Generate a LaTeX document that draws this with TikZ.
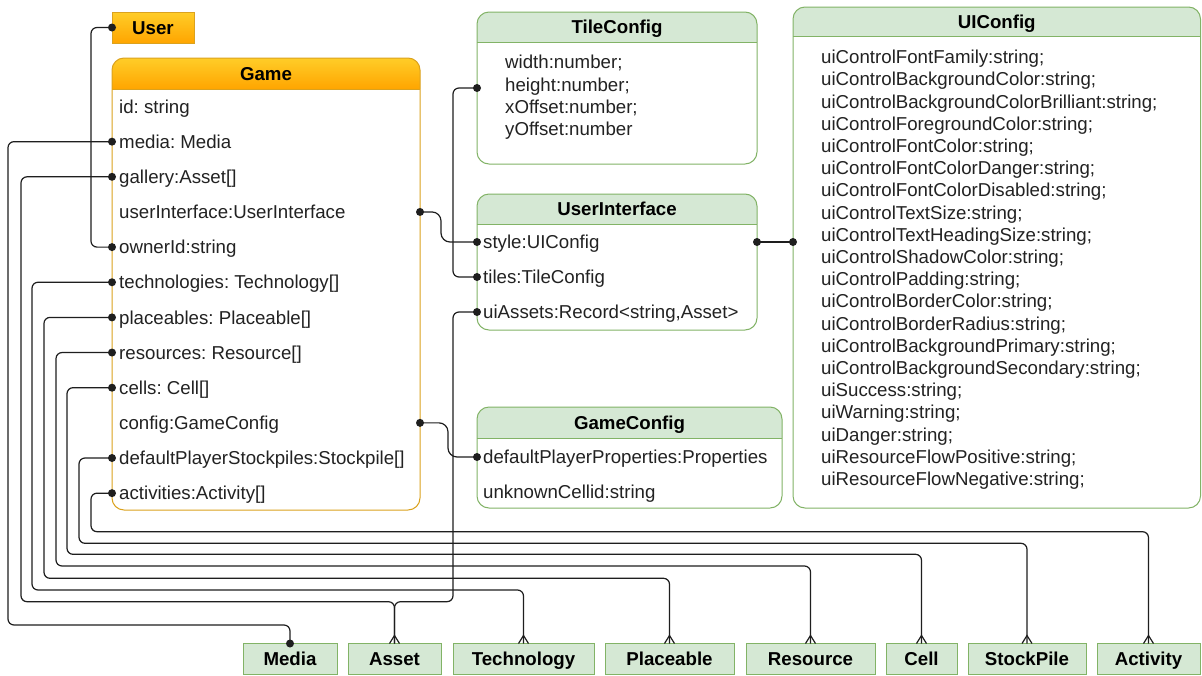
\documentclass[tikz,border=0pt]{standalone}
\usepackage{fontspec}
\setmainfont{Liberation Sans}
\usetikzlibrary{calc}

\definecolor{gfill}{HTML}{D5E8D4}
\definecolor{gline}{HTML}{82B366}
\definecolor{otop}{HTML}{FFCD28}
\definecolor{obot}{HTML}{FFA500}
\definecolor{oline}{HTML}{DBA21E}
\definecolor{wirec}{HTML}{1E1E1E}
\definecolor{txtc}{HTML}{222222}

\newcommand\erfont{\fontsize{18.67}{22.2}\selectfont\frenchspacing}

% filled joint dot at a named point
\newcommand\jdot[1]{\fill[wirec] (#1) circle[radius=4pt];}
% "many" end marker sitting on the top edge of an entity
\newcommand\crowfoot[1]{\draw[wirec, line width=1.2pt] ($(#1.north)+(-5,0)$) -- ($(#1.north)+(0,-8)$) -- ($(#1.north)+(5,0)$);}
% header band, separator, outline and title of a class box
% #1 node, #2 header height, #3 header fill, #4 line colour, #5 title
\newcommand\classhead[5]{%
  \path[#3] ([yshift=-#2pt]#1.north west) [rounded corners=12pt] -- (#1.north west) -- (#1.north east) [sharp corners] -- ([yshift=-#2pt]#1.north east) -- cycle;
  \draw[#4, line width=1pt] ([yshift=-#2pt]#1.north west) -- ([yshift=-#2pt]#1.north east);
  \draw[#4, line width=1pt, rounded corners=12pt] (#1.north west) rectangle (#1.south east);
  \node[heading] (#1-title) at ($(#1.north)!0.5!([yshift=-#2pt]#1.north)$) {#5};
}

\tikzset{
  field/.style={anchor=west, inner sep=0pt, text height=13.4pt, text depth=0pt, font=\erfont, text=txtc},
  heading/.style={inner sep=0pt, text height=13.4pt, text depth=0pt, font=\erfont\bfseries, text=black},
  classbody/.style={fill=white, rounded corners=12pt, inner sep=0pt, outer sep=0pt, anchor=north west},
  entity/.style={draw=gline, fill=gfill, line width=1pt, inner sep=0pt, outer sep=0pt, anchor=north west,
    minimum height=31pt, font=\erfont\bfseries, text height=13.4pt, text depth=0pt},
  wire/.style={draw=wirec, line width=1.2pt, rounded corners=6pt},
  sbend/.style={wire, rounded corners=9pt},
}

\begin{document}
\begin{tikzpicture}[x=1pt,y=-1pt]
\fill[white] (0,0) rectangle (1202,675);
\useasboundingbox (0,0) rectangle (1202,675);

% ---------- User ----------
\node[draw=oline, top color=otop, bottom color=obot, line width=1pt, inner sep=0pt, outer sep=0pt,
  anchor=north west, minimum width=82pt, minimum height=31pt, font=\erfont\bfseries,
  text height=13.4pt, text depth=0pt] (user) at (112,12) {User};

% ---------- Game ----------
\node[classbody, minimum width=308pt, minimum height=452pt] (game) at (112,58) {};
\classhead{game}{31}{top color=otop, bottom color=obot}{oline}{Game}
\foreach [count=\i from 0] \n/\t in {
  gid/{id: string},
  gmedia/{media: Media},
  ggallery/{gallery:Asset[]},
  gui/{userInterface:UserInterface},
  gowner/{ownerId:string},
  gtech/{technologies: Technology[]},
  gplace/{placeables: Placeable[]},
  gres/{resources: Resource[]},
  gcells/{cells: Cell[]},
  gconfig/{config:GameConfig},
  gstock/{defaultPlayerStockpiles:Stockpile[]},
  gact/{activities:Activity[]}}
  {\node[field] (\n) at (119,{106.5+35.15*\i}) {\t};}

% ---------- TileConfig ----------
\node[classbody, minimum width=280pt, minimum height=152pt] (tile) at (477,12) {};
\classhead{tile}{30}{fill=gfill}{gline}{TileConfig}
\foreach [count=\i from 0] \n/\t in {
  tw/{width:number;}, th/{height:number;}, tx/{xOffset:number;}, ty/{yOffset:number}}
  {\node[field] (\n) at (505,{62+22.3*\i}) {\t};}

% ---------- UserInterface ----------
\node[classbody, minimum width=280pt, minimum height=136pt] (ui) at (477,194) {};
\classhead{ui}{30}{fill=gfill}{gline}{UserInterface}
\foreach [count=\i from 0] \n/\t in {
  uistyle/{style:UIConfig}, uitiles/{tiles:TileConfig}, uiassets/{uiAssets:Record<string,Asset>}}
  {\node[field] (\n) at (483,{242+35*\i}) {\t};}

% ---------- GameConfig ----------
\node[classbody, minimum width=305pt, minimum height=101pt] (gc) at (477,407) {};
\classhead{gc}{31}{fill=gfill}{gline}{GameConfig}
\node[field] (gcdpp) at (483,457) {defaultPlayerProperties:Properties};
\node[field] (gccell) at (483,492) {unknownCellid:string};

% ---------- UIConfig ----------
\node[classbody, minimum width=407.5pt, minimum height=501pt] (uicfg) at (793,7) {};
\classhead{uicfg}{29}{fill=gfill}{gline}{UIConfig}
\foreach [count=\i from 0] \t in {
  {uiControlFontFamily:string;},
  {uiControlBackgroundColor:string;},
  {uiControlBackgroundColorBrilliant:string;},
  {uiControlForegroundColor:string;},
  {uiControlFontColor:string;},
  {uiControlFontColorDanger:string;},
  {uiControlFontColorDisabled:string;},
  {uiControlTextSize:string;},
  {uiControlTextHeadingSize:string;},
  {uiControlShadowColor:string;},
  {uiControlPadding:string;},
  {uiControlBorderColor:string;},
  {uiControlBorderRadius:string;},
  {uiControlBackgroundPrimary:string;},
  {uiControlBackgroundSecondary:string;},
  {uiSuccess:string;},
  {uiWarning:string;},
  {uiDanger:string;},
  {uiResourceFlowPositive:string;},
  {uiResourceFlowNegative:string;}}
  {\node[field] (uc\i) at (821,{57+22.2*\i}) {\t};}

% ---------- entities along the bottom ----------
\node[entity, minimum width=94pt]  (media)     at (243,643.5)  {Media};
\node[entity, minimum width=93pt]  (asset)     at (348,643.5)  {Asset};
\node[entity, minimum width=141pt] (tech)      at (453,643.5)  {Technology};
\node[entity, minimum width=129pt] (placeable) at (605,643.5)  {Placeable};
\node[entity, minimum width=129pt] (resource)  at (746,643.5)  {Resource};
\node[entity, minimum width=71pt]  (cell)      at (886,643.5)  {Cell};
\node[entity, minimum width=118pt] (stockpile) at (968,643.5)  {StockPile};
\node[entity, minimum width=103pt] (activity)  at (1097,643.5) {Activity};

% ---------- connectors ----------
\draw[wire] (user.west) -- ++(-21,0) |- (game.west |- gowner.west);
\draw[wire] (game.west |- gmedia.west)   -| (8,625)    -| (media.north);
\draw[wire] (game.west |- ggallery.west) -| (21,601.7) -| (asset.north);
\draw[wire] (ui.west |- uiassets.west)   -| (453,601.7) -| (asset.north);
\draw[wire] (game.west |- gtech.west)    -| (32,590)   -| (tech.north);
\draw[wire] (game.west |- gplace.west)   -| (44,578.3) -| (placeable.north);
\draw[wire] (game.west |- gres.west)     -| (56,566)   -| (resource.north);
\draw[wire] (game.west |- gcells.west)   -| (67,554.3) -| (cell.north);
\draw[wire] (game.west |- gstock.west)   -| (79,543.3) -| (stockpile.north);
\draw[wire] (game.west |- gact.west)     -| (91,531.7) -| (activity.north);

\draw[sbend] (game.east |- gui.west) -- ++(21,0) |- (ui.west |- uistyle.west);
\draw[sbend] (game.east |- gconfig.west) -- ++(28,0) |- (gc.west |- gcdpp.west);
\draw[wire] (ui.west |- uitiles.west) -- ++(-24,0) |- (tile.west);
\draw[wire] (ui.east |- uistyle.west) -- (uicfg.west |- uistyle.west);

% ---------- end markers ----------
\foreach \p in {user.west, game.west |- gmedia.west, game.west |- ggallery.west,
  game.west |- gowner.west, game.west |- gtech.west, game.west |- gplace.west,
  game.west |- gres.west, game.west |- gcells.west, game.west |- gstock.west,
  game.west |- gact.west, game.east |- gui.west, game.east |- gconfig.west,
  ui.west |- uistyle.west, ui.west |- uitiles.west, ui.west |- uiassets.west,
  tile.west, gc.west |- gcdpp.west, ui.east |- uistyle.west, uicfg.west |- uistyle.west,
  media.north}
  {\jdot{\p}}
\foreach \e in {asset, tech, placeable, resource, cell, stockpile, activity}
  {\crowfoot{\e}}
\end{tikzpicture}
\end{document}
